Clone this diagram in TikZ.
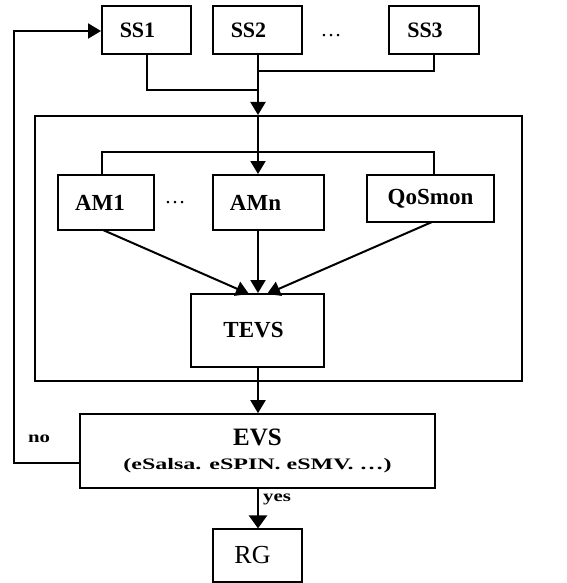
\documentclass[tikz,border=0pt]{standalone}
\usepackage{fontspec}
\setmainfont{Liberation Serif}
\usetikzlibrary{arrows.meta}
\begin{document}
\begin{tikzpicture}[x=1pt,y=-1pt,
  box/.style={draw,line width=2pt,rectangle,inner sep=0pt,font=\fontsize{23}{26}\selectfont\bfseries},
  conn/.style={line width=2pt},
  arr/.style={line width=2pt,-{Triangle[length=13pt,width=15pt]}},
  lbl/.style={inner sep=0pt,font=\fontsize{16}{18}\selectfont\bfseries},
  dots/.style={inner sep=0pt,font=\fontsize{21}{24}\selectfont}
]
\useasboundingbox (0,0) rectangle (566,583);
% top boxes
\node[box,minimum width=89pt,minimum height=48pt,font=\fontsize{22}{25}\selectfont\bfseries] (ss1) at (146.5,30) {SS1\kern18pt};
\node[box,minimum width=89pt,minimum height=48pt,font=\fontsize{22}{25}\selectfont\bfseries] (ss2) at (257.5,30) {SS2\kern18pt};
\node[box,minimum width=90pt,minimum height=48pt,font=\fontsize{22}{25}\selectfont\bfseries] (ss3) at (434,30) {SS3\kern18pt};
\node[dots] (d1) at (331,36) {\dots};
% container
\node[draw,line width=2pt,rectangle,inner sep=0pt,minimum width=487pt,minimum height=265pt] (big) at (278.5,248.5) {};
% middle boxes
\node[box,minimum width=96pt,minimum height=55pt] (am1) at (106,202.5) {AM1\kern12pt};
\node[box,minimum width=111pt,minimum height=55pt] (amn) at (268.5,202.5) {AMn\kern26pt};
\node[box,minimum width=127pt,minimum height=47pt] (qos) at (430.5,198.5) {QoSmon};
\node[dots] (d2) at (175,203) {\dots};
\node[box,minimum width=133pt,minimum height=73pt] (tevs) at (257.5,330.5) {TEVS\kern8pt};
% EVS
\node[box,line width=1.6pt,minimum width=355pt,minimum height=74pt,align=center,font=\fontsize{25}{27}\selectfont\bfseries] (evs) at (257.5,451)
  {EVS\\[-3pt]{\fontsize{16}{17}\selectfont\scalebox{1.5}[1]{(eSalsa. eSPIN. eSMV. \dots)}}};
\node[draw,line width=1.2pt,rectangle,inner sep=0pt,minimum width=89pt,minimum height=53pt,font=\fontsize{26}{28}\selectfont] (rg) at (257.5,555.5) {RG\kern10pt};
% coordinates
\coordinate (j1) at (147,90);
\coordinate (j2) at (258,90);
\coordinate (j3) at (434,71);
\coordinate (j4) at (258,71);
\coordinate (b1) at (102,152);
\coordinate (b2) at (434,152);
\coordinate (bm) at (258,152);
\coordinate (f1) at (14,463);
\coordinate (f2) at (14,31);
% connectors top
\draw[conn] (ss1.south -| j1) -- (j1) -- (j2);
\draw[conn] (ss3.south -| j3) -- (j3) -- (j4);
\draw[arr] (ss2.south -| j2) -- (big.north -| j2);
\draw[conn] (big.north -| j2) -- (bm);
\draw[conn] (am1.north -| b1) -- (b1) -- (b2) -- (qos.north -| b2);
\draw[arr] (bm) -- (amn.north -| bm);
% to TEVS
\draw[arr] (103,230) -- (249,294);
\draw[arr] (amn.south -| bm) -- (tevs.north -| bm);
\draw[arr] (432,222) -- (267,294);
% down
\draw[conn] (tevs.south -| bm) -- (big.south -| bm);
\draw[arr] (big.south -| bm) -- (evs.north -| bm);
\draw[line width=2.6pt,-{Triangle[length=13pt,width=18pt]}] (evs.south -| bm) -- (rg.north -| bm);
% feedback
\draw[arr] (evs.west |- f1) -- (f1) -- (f2) -- (ss1.west |- f2);
\node[lbl] (no) at (39,439) {\scalebox{1.3}[1]{no}};
\node[lbl] (yes) at (277,499) {\scalebox{1.3}[1]{yes}};
\end{tikzpicture}
\end{document}
